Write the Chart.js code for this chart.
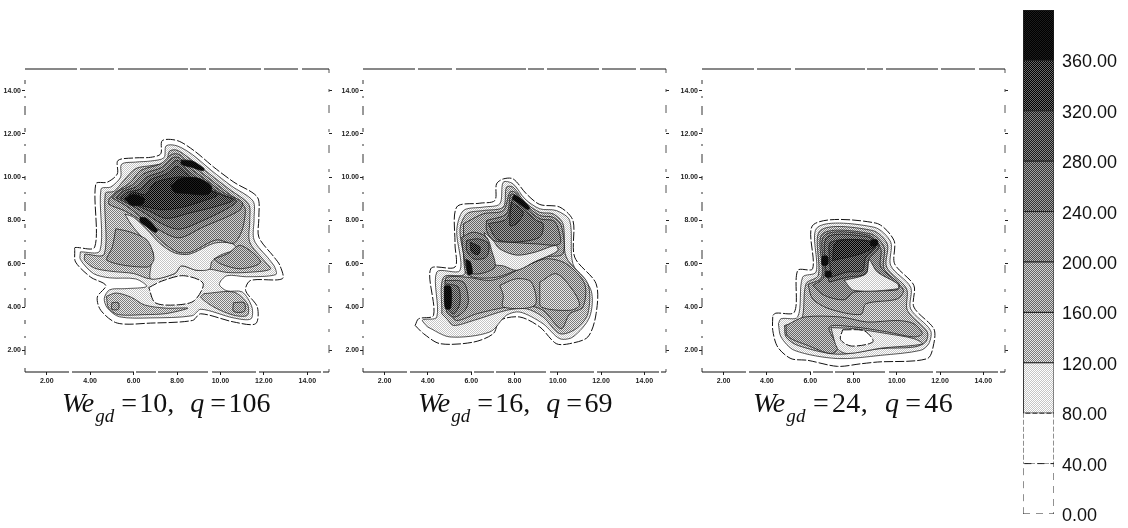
<!DOCTYPE html>
<html>
<head>
<meta charset="utf-8">
<script src="https://cdn.jsdelivr.net/npm/chart.js@4"></script>
<style>
  html, body { margin: 0; padding: 0; background: #fff; width: 1128px; height: 528px; overflow: hidden; }
  canvas { position: absolute; }
  .caption { position: absolute; top: 383px; font: 28px "Liberation Serif", serif; color: #111; white-space: pre; line-height: 40px; }
  .caption i { font-style: italic; letter-spacing: -1px; }
  .caption i.q { margin-left: 2px; }
  .caption sub { font-size: 19px; font-style: italic; position: relative; top: 3px; vertical-align: sub; line-height: 0; margin-left: 2px; margin-right: 7px; }
</style>
</head>
<body>
<canvas id="panel1" width="340" height="330" style="left:0;top:60px"></canvas>
<canvas id="panel2" width="339" height="330" style="left:338px;top:60px"></canvas>
<canvas id="panel3" width="339" height="330" style="left:677px;top:60px"></canvas>
<canvas id="colorbar" width="123" height="528" style="left:1005px;top:0"></canvas>
<div class="caption" id="cap1" style="left:62px"></div>
<div class="caption" id="cap2" style="left:418px"></div>
<div class="caption" id="cap3" style="left:753px;letter-spacing:.4px"></div>

<script>
const axisTicks = [2, 4, 6, 8, 10, 12, 14];
const colorbarTicks = [0, 40, 80, 120, 160, 200, 240, 280, 320, 360];
const bandLevels = [0, 40, 80, 120, 160, 200, 240, 280, 320, 360];
const bandGreys = [255, 255, 226, 178, 156, 132, 106, 80, 52, 14];
const captionWe = [10, 16, 24];
const captionQ = [106, 69, 46];

// plot frame, the scanned axes are broken lines
const frameTop = [[1,15],[15,15]];
const frameBottom = [[1,1],[15,1]];
const frameLeft = [[1,1],[1,15]];
const frameRight = [[15,1],[15,15]];

// panel 1, We=10
const p1Lvl40 = [[3.29,6.62],[3.3,6.75],[4.21,6.77],[4.26,9.69],[4.79,9.77],[5.25,10.15],[5.28,10.77],[6.02,10.89],[6.79,10.92],[7.25,11.08],[7.32,11.69],[8.02,11.69],[8.78,11.23],[9.7,10.46],[10.62,9.77],[11.7,9.08],[11.77,8.15],[11.77,7.23],[12.47,6.31],[12.74,5.92],[12.85,5.31],[11.39,5.23],[11.16,4.77],[11.7,4],[11.62,3.23],[10.62,3.31],[9.09,3.69],[8.71,3.38],[6.79,3.26],[5.25,3.26],[4.49,3.85],[4.33,4.46],[4.72,5],[4.03,5.38],[3.33,6.08]];
const p1Lvl80 = [[3.55,6.55],[4.45,6.6],[4.5,9.45],[4.95,9.55],[5.4,10],[5.45,10.6],[6.1,10.7],[6.8,10.75],[7.4,10.9],[7.5,11.45],[8,11.45],[8.7,11.05],[9.6,10.3],[10.5,9.6],[11.5,8.9],[11.55,8.1],[11.55,7.1],[12.25,6.2],[12.5,5.85],[12.55,5.5],[11.2,5.4],[10.3,5.45],[9.95,5.05],[10.3,4.75],[11,4.7],[11.45,4],[11.4,3.45],[10.6,3.5],[9.1,3.9],[8.7,3.6],[6.8,3.5],[5.35,3.55],[4.8,3.95],[4.65,4.4],[4.9,4.8],[5.6,4.85],[6.6,4.95],[6.1,5.3],[4.9,5.35],[4.15,5.55],[3.55,6.2]];
const p1Centre = [[6.7,4.9],[7.3,5.2],[8.3,5.45],[9.2,5.1],[8.8,4.3],[8,4.1],[7,4.2]];
const p1Lvl120 = [[3.75,6.45],[4.65,6.45],[4.7,9.25],[5.1,9.35],[5.55,9.85],[6.1,10.4],[6.9,10.55],[7.5,10.7],[7.65,11.2],[8,11.25],[8.6,10.85],[9.5,10.15],[10.4,9.45],[11.3,8.75],[11.35,8],[11.35,7],[12.05,6.1],[12.3,5.75],[11.2,5.6],[10.3,5.6],[9.5,5.75],[8.9,5.7],[8.2,5.9],[7.9,5.55],[6.8,5.3],[6,5.55],[5,5.65],[4.2,5.8],[3.75,6.15]];
const p1PocketL = [[4.75,4.5],[5.2,4.65],[5.9,4.45],[6.5,4.1],[7.5,3.95],[8.5,3.95],[7.5,3.7],[6.5,3.65],[5.3,3.65],[4.85,3.95]];
const p1PocketR = [[9.24,4.62],[10.62,4.69],[11.24,4.15],[11.24,3.62],[10.62,3.62],[9.7,4],[9.09,4.46]];
const p1PocketL2 = [[5,4.2],[5.3,4.2],[5.3,3.9],[5,3.9]];
const p1PocketR2 = [[10.6,4.2],[11.1,4.2],[11.1,3.8],[10.6,3.8]];
const p1Band = [[5.6,8.3],[6,8.15],[6.6,7.6],[7.2,6.95],[7.9,6.5],[8.6,6.45],[9.7,6.95],[10.5,6.95],[10.75,6.7],[10,6.4],[9.6,6.1],[9.5,5.75],[8.9,5.7],[8.2,5.9],[7.9,5.55],[6.8,5.3],[6.8,5.9],[6.9,6.5],[6.4,7.2],[5.9,7.8]];
const p1PatchL = [[5.18,7.62],[5.87,7.46],[6.63,7.08],[6.94,6.23],[6.63,5.85],[4.79,6.15],[5.02,6.77]];
const p1PatchR = [[9.7,6.23],[10.32,6.46],[10.93,6.85],[11.85,6.08],[10.93,5.77],[10,6]];
const p1Lvl160 = [[4.87,9],[5.18,9.31],[5.87,9.77],[6.33,10.31],[7.25,10.62],[7.75,11.05],[8.1,11.05],[8.55,10.65],[9.4,10],[10.3,9.3],[11.1,8.65],[11.1,8],[10.93,7.38],[10.6,6.95],[9.8,7.1],[8.63,6.54],[8,6.55],[7.25,7.08],[6.33,8],[5.56,8.46],[4.87,8.75]];
const p1Lvl200 = [[5,9.05],[5.3,9.35],[5.95,9.65],[6.45,10.15],[7.3,10.45],[7.8,10.9],[8.1,10.9],[8.5,10.5],[9.3,9.9],[10.2,9.25],[11,8.85],[10.85,8.45],[9.2,7.7],[8.1,7.2],[7.2,7.55],[6.35,8.15],[5.7,8.65]];
const p1Lvl240 = [[5.2,9.05],[5.5,9.35],[6.1,9.55],[6.6,10],[7.4,10.3],[7.9,10.75],[8.1,10.75],[8.45,10.35],[9.2,9.75],[10.1,9.2],[10.75,8.9],[10.4,8.6],[9.2,8],[8.1,7.6],[7.3,7.85],[6.5,8.35],[5.8,8.75]];
const p1Lvl280 = [[5.4,9.05],[5.7,9.3],[6.3,9.45],[6.8,9.9],[7.5,10.15],[8,10.5],[8.4,10.2],[9.2,9.6],[10,9.2],[10.6,8.95],[9.8,8.65],[8.6,8.35],[7.5,8.1],[6.7,8.45],[5.9,8.8]];
const p1Lvl320 = [[5.6,9.05],[6,9.3],[6.5,9.2],[7,9.75],[7.7,9.95],[8.4,10],[9.2,9.5],[9.9,9.2],[9.2,8.9],[8.2,8.6],[7.3,8.5],[6.5,8.65],[5.9,8.8]];
const p1Peak1 = [[7.7,9.6],[8.2,9.95],[9,9.95],[9.6,9.55],[9.4,9.2],[8.4,9.25],[7.9,9.3]];
const p1Peak2 = [[5.6,9],[6,9.2],[6.5,9],[6.4,8.75],[5.9,8.7]];
const p1Peak3 = [[8.2,10.8],[8.7,10.75],[9.25,10.4],[9.2,10.3],[8.7,10.45],[8.2,10.6]];
const p1Peak4 = [[6.3,8.15],[6.6,8.1],[7.1,7.55],[7,7.45],[6.55,7.75],[6.3,7.95]];

// panel 2, We=16
const p2Lvl40 = [[3.41,3.15],[3.57,3.46],[4.26,3.62],[4.13,5.77],[5.25,5.85],[5.25,6.92],[5.33,8.62],[6.4,8.8],[7.09,8.92],[7.17,9.69],[7.48,9.92],[7.94,9.92],[8.55,9.23],[9.17,8.74],[10.09,8.62],[10.7,8],[10.78,6.31],[11.77,5.08],[11.77,3.69],[11.39,2.62],[10.55,2.31],[9.93,2.31],[9.17,3.08],[8.25,3.54],[7.32,3.38],[7.02,2.77],[6.1,2.38],[4.56,2.31],[3.8,2.77]];
const p2Lvl80 = [[3.98,3.08],[5.02,2.62],[6.86,2.85],[7.63,3.62],[8.25,3.77],[9.32,3.23],[10.09,2.54],[10.7,2.62],[11.47,3.54],[11.54,4.77],[10.7,6],[10.55,8],[9.93,8.46],[9.17,8.54],[8.48,9],[7.94,9.69],[7.48,9.77],[7.32,8.77],[6.56,8.62],[5.64,8.46],[5.33,7.54],[5.48,5.69],[4.41,5.62],[4.41,3.54],[3.75,3.4]];
const p2Lvl120 = [[4.64,3.69],[4.87,3.46],[5.18,3.15],[6.1,3.38],[7.63,3.85],[8.55,3.92],[9.32,3.54],[10.09,2.77],[10.85,3],[11.39,3.69],[11.39,5.08],[10.39,6.31],[10.24,7.85],[9.78,8.31],[9.17,8.38],[8.48,8.85],[7.94,9.54],[7.63,9.54],[7.48,8.62],[6.56,8.46],[5.79,8.31],[5.48,7.54],[5.71,5.54],[4.72,5.38]];
const p2Lower160 = [[5.02,3.69],[5.33,3.38],[6.25,3.69],[7.63,4],[8.55,4.08],[9.32,3.85],[10.16,3],[10.55,3.69],[11.16,4],[11.24,5.08],[10.39,6],[9.47,6.23],[8.4,5.85],[7.63,5.46],[6.86,5.23],[5.79,5.38],[4.87,5.38],[4.8,5.1],[4.8,4.2]];
const p2PatchA = [[7.32,5],[8.09,5.31],[8.78,5.15],[8.94,4.08],[7.48,4],[7.48,4.54]];
const p2PatchB = [[9.17,5.15],[9.93,5.54],[10.7,4.77],[11,4.08],[10.55,3.85],[9.24,4],[9.17,4.5]];
const p2Upper160 = [[5.64,7.85],[6.56,8.31],[7.48,8.46],[7.79,9.31],[8.02,9.31],[8.55,8.69],[9.17,8.23],[9.78,8.15],[10.16,7.77],[10.24,6.46],[9.47,6.31],[8.25,5.77],[7.17,5.38],[6.1,5.38],[5.71,5.69]];
const p2Band = [[6.6,7.45],[7,7.1],[7.3,6.7],[8.1,6.4],[9,6.55],[9.9,6.85],[10,6.6],[8.95,6.1],[8.1,5.7],[7.5,5.9],[7,6],[6.85,6.6]];
const p2BlobL200 = [[5.56,7.23],[6.1,7.46],[6.71,7.23],[6.94,6.62],[7.09,5.85],[6.4,5.54],[5.87,5.62],[5.64,6.46]];
const p2BlobL240 = [[5.79,7.08],[6.33,7.15],[6.8,6.92],[6.7,6.31],[6.1,6.23],[5.79,6.62]];
const p2BlobL320 = [[5.95,7],[6.4,6.77],[6.33,6.43],[6.02,6.54]];
const p2Upper200 = [[6.71,8],[7.63,8.31],[7.86,9.23],[8.48,8.62],[9.17,8.08],[9.78,8],[10,7.69],[10.09,6.92],[9,6.92],[7.79,7],[7.02,7.08],[6.71,7.54]];
const p2Upper240 = [[6.79,7.85],[7.63,8.08],[7.94,9],[8.4,8.54],[9.02,8],[9.32,7.85],[9.17,7.23],[7.94,7],[7.17,7.15]];
const p2Upper280 = [[7.86,8.85],[8.4,8.38],[8.09,7.85],[7.79,7.77]];
const p2Corner200 = [[4.79,5.23],[5.64,5.15],[5.87,4.31],[5.71,3.85],[5.25,3.54],[4.87,3.77]];
const p2Corner240 = [[4.87,5.08],[5.4,4.92],[5.47,4.15],[5.18,3.69],[4.87,4]];
const p2Peak1 = [[8,9.2],[8.3,9],[8.7,8.6],[8.6,8.5],[8.2,8.8],[7.9,9]];
const p2Peak2 = [[4.75,4.95],[5.05,4.95],[5.05,3.95],[4.8,3.95]];
const p2Peak3 = [[5.75,6.2],[5.95,6.1],[6.05,5.55],[5.85,5.5]];

// panel 3, We=24
const p3Lvl40 = [[4.27,3.62],[4.42,3.72],[5.27,3.77],[5.42,5.69],[6.11,5.77],[6.16,7.82],[9.03,7.88],[9.87,7.08],[9.9,6],[10.79,5],[10.79,4],[11.71,3],[11.71,2.31],[11.41,1.62],[9.1,1.46],[8.34,1.38],[7.26,1.26],[5.88,1.54],[5.11,1.62],[4.5,2.15],[4.27,2.92]];
const p3Lvl80 = [[4.53,3.23],[4.65,3.46],[5.42,3.54],[5.65,5.38],[6.27,5.62],[6.34,7.69],[8.95,7.69],[9.72,7],[9.72,5.92],[10.64,4.92],[10.64,3.92],[11.56,2.92],[11.48,2.31],[11.1,2],[9.26,1.77],[7.26,1.62],[5.27,2],[4.65,2.62]];
const p3Lvl120 = [[4.81,3.15],[5.58,3.38],[5.81,5.08],[6.37,5.46],[6.47,7.54],[8.87,7.54],[9.56,6.92],[9.53,5.85],[10.45,4.85],[10.49,3.85],[11.41,2.85],[11.33,2.38],[10.79,2.15],[9.26,2.08],[7.26,1.82],[5.42,2.23],[4.88,2.62]];
const p3Lower160 = [[4.88,3.15],[5.73,3.54],[7.42,3.54],[8.64,3.31],[10.03,3.38],[10.79,3.23],[11.18,2.77],[10.79,2.62],[9.56,2.85],[8.02,3.08],[6.88,3.08],[7.26,2.08],[6.95,1.85],[5.88,2.23],[4.95,2.65]];
const p3Light = [[6.96,3.05],[8.03,3],[9.56,2.77],[10.79,2.54],[11.18,2.3],[9.26,2.1],[7.72,1.85],[7.26,2.08]];
const p3Speck = [[7.5,2.95],[8.5,2.9],[8.9,2.4],[7.9,2.2],[7.4,2.5]];
const p3Mid160 = [[5.9,5.05],[6.11,4.38],[6.88,3.92],[8.34,3.66],[8.57,4.15],[10.03,4.38],[10.3,4.8],[9.41,5.77],[9.41,6.77],[8.8,7.38],[6.57,7.38],[6.53,5.38]];
const p3Mid200 = [[6.11,5],[6.65,4.54],[7.57,4.34],[8.03,4.69],[10.03,4.8],[10.1,5.08],[9.26,5.85],[9.26,6.69],[8.72,7.31],[6.65,7.31],[6.62,5.38]];
const p3Tongue = [[7.57,5.23],[8.57,5.54],[8.72,6.18],[9.1,5.62],[10.03,5.08],[10.06,4.85],[8.03,4.77]];
const p3Lvl240 = [[6.88,5.15],[7.72,5.38],[8.57,5.54],[8.72,6.23],[9.1,6.62],[9.17,6.92],[8.64,7.25],[6.8,7.25],[6.68,6]];
const p3Lvl280 = [[6.96,5.38],[7.72,5.62],[8.41,5.69],[8.57,6.31],[9.02,6.77],[8.64,7.08],[6.96,7],[6.9,6.15]];
const p3Lvl320 = [[7.03,6.15],[8.33,6.46],[9.02,6.85],[8.49,7.08],[7.19,7]];
const p3Peak1 = [[8.8,7.1],[9.1,7.1],[9.1,6.85],[8.8,6.85]];
const p3Peak2 = [[6.55,6.35],[6.8,6.35],[6.8,5.95],[6.55,5.95]];
const p3Peak3 = [[6.7,5.65],[6.95,5.65],[6.95,5.4],[6.7,5.4]];

const panel1Contours = [[40,p1Lvl40],[80,p1Lvl80],[40,p1Centre],[120,p1Lvl120],[120,p1PocketL],[120,p1PocketR],[160,p1PocketL2],[160,p1PocketR2],[80,p1Band],[160,p1PatchL],[160,p1PatchR],[160,p1Lvl160],[200,p1Lvl200],[240,p1Lvl240],[280,p1Lvl280],[320,p1Lvl320],[360,p1Peak1],[360,p1Peak2],[360,p1Peak3],[360,p1Peak4]];
const panel2Contours = [[40,p2Lvl40],[80,p2Lvl80],[120,p2Lvl120],[160,p2Lower160],[120,p2PatchA],[120,p2PatchB],[160,p2Upper160],[80,p2Band],[200,p2BlobL200],[240,p2BlobL240],[320,p2BlobL320],[200,p2Upper200],[240,p2Upper240],[280,p2Upper280],[200,p2Corner200],[240,p2Corner240],[360,p2Peak1],[360,p2Peak2],[360,p2Peak3]];
const panel3Contours = [[40,p3Lvl40],[80,p3Lvl80],[120,p3Lvl120],[160,p3Lower160],[80,p3Light],[40,p3Speck],[160,p3Mid160],[200,p3Mid200],[80,p3Tongue],[240,p3Lvl240],[280,p3Lvl280],[320,p3Lvl320],[360,p3Peak1],[360,p3Peak2],[360,p3Peak3]];

// checker pattern, the scan of the original is a halftone
function halftone(grey) {
    if (grey === 255) return '#ffffff';
    const d = Math.min(grey, 255 - grey, 55);
    const c = document.createElement('canvas');
    c.width = 2;
    c.height = 2;
    const g = c.getContext('2d');
    g.fillStyle = `rgb(${grey + d},${grey + d},${grey + d})`;
    g.fillRect(0, 0, 2, 2);
    g.fillStyle = `rgb(${grey - d},${grey - d},${grey - d})`;
    g.fillRect(0, 0, 1, 1);
    g.fillRect(1, 1, 1, 1);
    return g.createPattern(c, 'repeat');
}

function levelFill(level) {
    return halftone(bandGreys[bandLevels.indexOf(level)]);
}

function toPoints(poly) {
    const pts = poly.map(([x, y]) => ({ x, y }));
    pts.push(pts[0]);
    return pts;
}

function contourDatasets(contours) {
    return contours.map(([level, poly], i) => ({
        data: toPoints(poly),
        showLine: true,
        fill: 'shape',
        tension: 0.3,
        pointRadius: 0,
        backgroundColor: levelFill(level),
        borderColor: '#111',
        borderWidth: level === 40 ? 1 : 0.7,
        borderDash: level === 40 ? [9, 2] : [],
        order: contours.length - i
    }));
}

function frameDataset(line, dash, color) {
    return {
        data: line.map(([x, y]) => ({ x, y })),
        showLine: true,
        fill: false,
        clip: false,
        pointRadius: 0,
        borderColor: color,
        borderWidth: 1,
        borderDash: dash,
        order: 0
    };
}

function fixedTicks(values) {
    return scale => { scale.ticks = values.map(v => ({ value: v })); };
}

function makePanel(id, contours) {
    const tickFont = { family: '"Liberation Sans", Arial, sans-serif', size: 7, weight: 'bold' };
    const base = { type: 'linear', min: 1, max: 15, afterBuildTicks: fixedTicks(axisTicks) };
    const grid = { drawOnChartArea: false, drawTicks: true, tickLength: 3, color: '#222', lineWidth: 1 };
    new Chart(document.getElementById(id), {
        type: 'scatter',
        data: {
            datasets: contourDatasets(contours).concat([
                frameDataset(frameTop, [52, 3, 34, 4, 70, 2, 16, 3], '#111'),
                frameDataset(frameBottom, [44, 3, 62, 2, 20, 2, 50, 4], '#111'),
                frameDataset(frameLeft, [4, 13, 9, 8, 2, 12], '#333'),
                frameDataset(frameRight, [3, 16, 8, 13], '#555')
            ])
        },
        options: {
            responsive: false,
            animation: false,
            plugins: { legend: { display: false }, tooltip: { enabled: false } },
            layout: { padding: 0 },
            scales: {
                x: {
                    ...base, position: 'bottom',
                    grid,
                    border: { display: false },
                    afterFit: s => { s.height = 18; },
                    ticks: { font: tickFont, color: '#222', padding: 2, maxRotation: 0, callback: v => v.toFixed(2) }
                },
                y: {
                    ...base, position: 'left',
                    grid,
                    border: { display: false },
                    afterFit: s => { s.width = 25; },
                    ticks: { font: tickFont, color: '#222', padding: 1, callback: v => v.toFixed(2) }
                },
                xTop: {
                    ...base, axis: 'x', position: 'top',
                    grid: { display: false },
                    border: { display: false },
                    afterFit: s => { s.height = 9; },
                    ticks: { display: false }
                },
                yRight: {
                    ...base, axis: 'y', position: 'right',
                    grid,
                    border: { display: false },
                    afterFit: s => { s.width = 11; },
                    ticks: { display: false }
                }
            }
        }
    });
}

makePanel('panel1', panel1Contours);
makePanel('panel2', panel2Contours);
makePanel('panel3', panel3Contours);

// colour bar built from the same bands
new Chart(document.getElementById('colorbar'), {
    type: 'scatter',
    data: {
        datasets: bandLevels.map((lo, i) => ({
            data: [{ x: 0, y: lo }, { x: 1, y: lo }, { x: 1, y: lo + 40 }, { x: 0, y: lo + 40 }, { x: 0, y: lo }],
            showLine: true,
            fill: 'shape',
            pointRadius: 0,
            backgroundColor: halftone(bandGreys[i]),
            borderColor: '#222',
            borderWidth: 1,
            borderDash: lo === 0 ? [7, 6] : lo === 40 ? [5, 2] : []
        }))
    },
    options: {
        responsive: false,
        animation: false,
        plugins: { legend: { display: false }, tooltip: { enabled: false } },
        layout: { padding: { left: 18, top: 10, bottom: 14 } },
        scales: {
            x: { type: 'linear', min: 0, max: 1, display: false },
            y: {
                type: 'linear', position: 'right', min: 0, max: 400,
                afterBuildTicks: fixedTicks(colorbarTicks),
                afterFit: s => { s.width = 74; s.paddingTop = 0; s.paddingBottom = 0; },
                grid: { display: false },
                border: { display: false },
                ticks: {
                    font: { family: '"Liberation Sans", Arial, sans-serif', size: 18 },
                    color: '#111', padding: 0, labelOffset: 2, callback: v => v.toFixed(2)
                }
            }
        }
    }
});

captionWe.forEach((we, i) => {
    document.getElementById('cap' + (i + 1)).innerHTML =
        `<i>We</i><sub>gd</sub>=\u200A${we},  <i class="q">q</i> =\u200A${captionQ[i]}`;
});
</script>
</body>
</html>
